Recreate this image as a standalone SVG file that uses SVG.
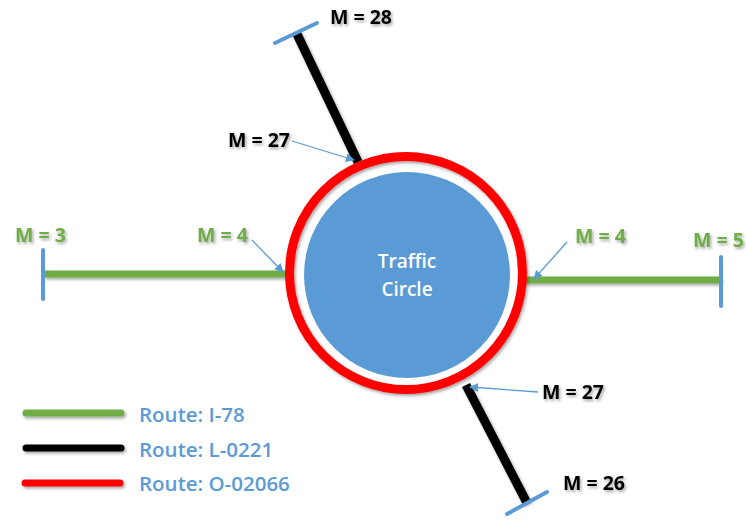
<svg xmlns="http://www.w3.org/2000/svg" width="746" height="521" viewBox="0 0 746 521">
<defs>
<filter id="sh" filterUnits="userSpaceOnUse" x="0" y="0" width="746" height="521">
<feDropShadow dx="1.5" dy="2" stdDeviation="1.5" flood-color="#000" flood-opacity="0.35"/>
</filter>
<marker id="arr" viewBox="0 0 10 10" refX="9" refY="5" markerWidth="9" markerHeight="9" orient="auto" markerUnits="userSpaceOnUse">
<path d="M0,0 L10,5 L0,10 z" fill="#5B9BD5"/>
</marker>
<style>
.lbl{font-family:"Open Sans","Liberation Sans",sans-serif;font-weight:700;font-size:19.5px;filter:url(#sh)}
.blk{fill:#000}
.grn{fill:#70AD47}
.leg{font-family:"Open Sans","Liberation Sans",sans-serif;font-weight:600;font-size:20.5px;fill:#5B9BD5}
.tick{stroke:#5B9BD5;stroke-width:4;stroke-linecap:round}
.ptr{stroke:#5B9BD5;stroke-width:1.3;fill:none;marker-end:url(#arr)}
.g{stroke:#70AD47;stroke-width:7}
.k{stroke:#000;stroke-width:9}
</style>
</defs>
<g id="connectors">
<g filter="url(#sh)">
<line class="g" x1="44" y1="274" x2="290" y2="274"/>
<line class="g" x1="525" y1="280" x2="721" y2="280"/>
<line class="k" x1="296" y1="32" x2="358" y2="162"/>
<line class="k" x1="466" y1="385" x2="527" y2="503"/>
</g>
<line class="tick" x1="43" y1="250" x2="43" y2="299"/>
<line class="tick" x1="721" y1="257" x2="721" y2="306"/>
<line class="tick" x1="275" y1="43" x2="317" y2="23"/>
<line class="tick" x1="507" y1="514" x2="547" y2="492"/>
<line class="ptr" x1="252" y1="240" x2="283" y2="272"/>
<line class="ptr" x1="567" y1="242" x2="534" y2="279"/>
<line class="ptr" x1="292" y1="141" x2="354" y2="160"/>
<line class="ptr" x1="538" y1="392" x2="470" y2="387"/>
</g>
<g id="ring">
<circle cx="406" cy="273" r="116.5" fill="none" stroke="#FF0000" stroke-width="9" filter="url(#sh)"/>
</g>
<g id="traffic-circle">
<circle cx="407" cy="275" r="103" fill="#5B9BD5"/>
<text x="407" y="268" text-anchor="middle" font-family="Open Sans, Liberation Sans, sans-serif" font-weight="600" font-size="19" fill="#fff">Traffic</text>
<text x="407" y="296" text-anchor="middle" font-family="Open Sans, Liberation Sans, sans-serif" font-weight="600" font-size="19" fill="#fff">Circle</text>
</g>
<g id="labels">
<text class="lbl grn" x="15" y="242">M = 3</text>
<text class="lbl grn" x="197" y="242">M = 4</text>
<text class="lbl grn" x="575" y="243">M = 4</text>
<text class="lbl grn" x="693" y="247">M = 5</text>
<text class="lbl blk" x="330" y="24">M = 28</text>
<text class="lbl blk" x="228" y="147">M = 27</text>
<text class="lbl blk" x="542" y="399">M = 27</text>
<text class="lbl blk" x="563" y="490">M = 26</text>
</g>
<g id="legend">
<g filter="url(#sh)">
<line x1="26" y1="413" x2="121" y2="413" stroke="#70AD47" stroke-width="7" stroke-linecap="round"/>
<line x1="26" y1="448" x2="121" y2="448" stroke="#000" stroke-width="7" stroke-linecap="round"/>
<line x1="25" y1="483" x2="120" y2="483" stroke="#FF0000" stroke-width="7" stroke-linecap="round"/>
</g>
<text class="leg" x="139" y="422">Route: I-78</text>
<text class="leg" x="139" y="457">Route: L-0221</text>
<text class="leg" x="139" y="491">Route: O-02066</text>
</g>
</svg>
